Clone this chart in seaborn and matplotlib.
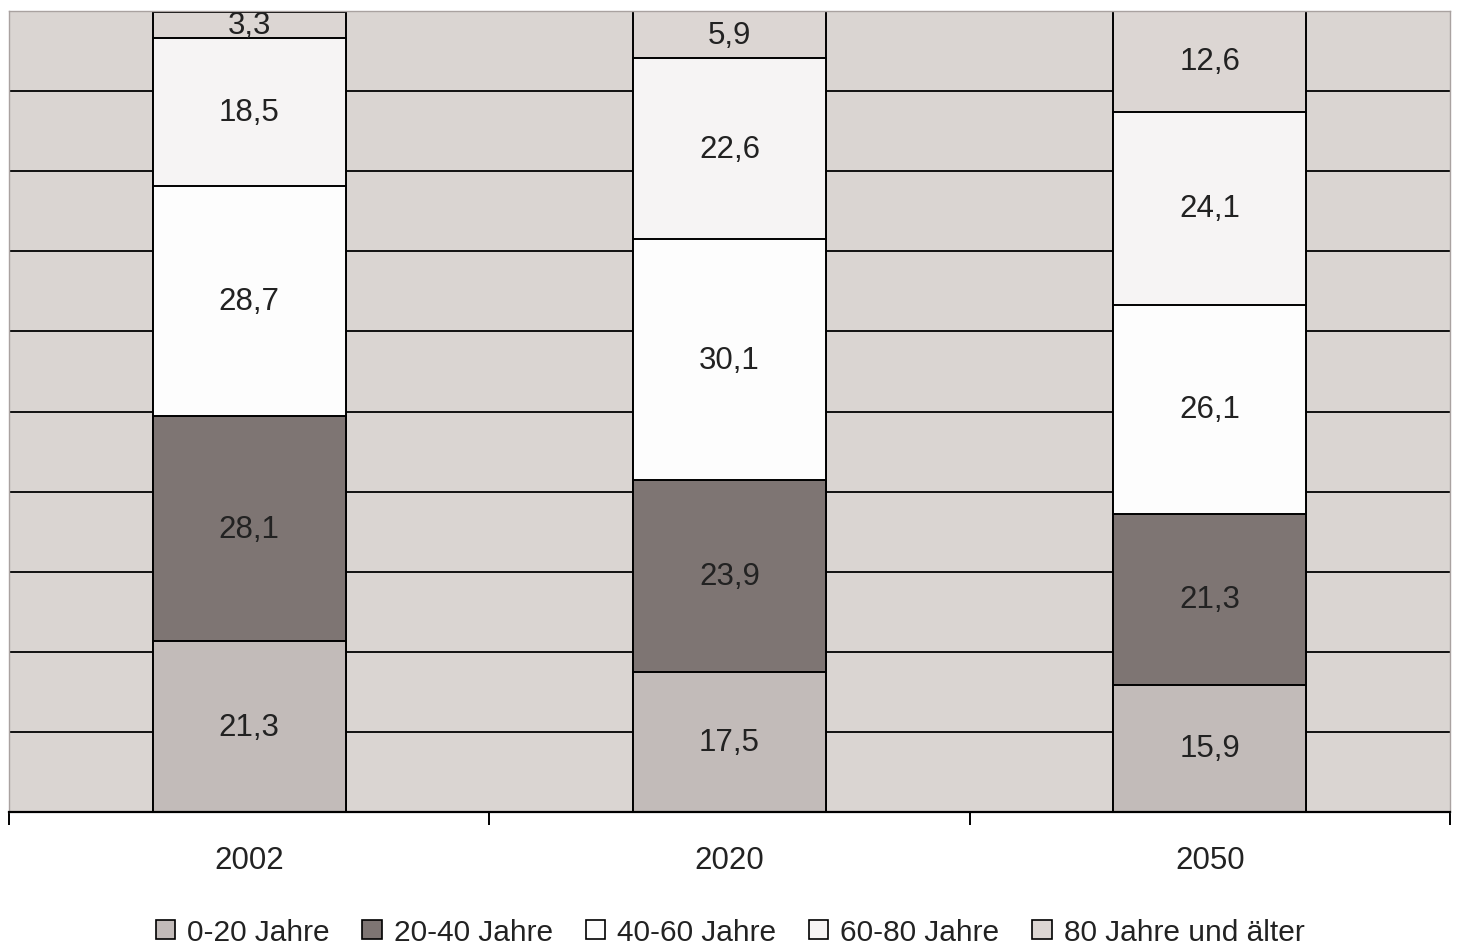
import matplotlib
matplotlib.use("Agg")
import matplotlib.pyplot as plt
from matplotlib.patches import Patch
import seaborn as sns
import numpy as np
import pandas as pd

years = ["2002", "2020", "2050"]
groups = ["0-20 Jahre", "20-40 Jahre", "40-60 Jahre", "60-80 Jahre", "80 Jahre und älter"]
v_0_20 = [21.3, 17.5, 15.9]
v_20_40 = [28.1, 23.9, 21.3]
v_40_60 = [28.7, 30.1, 26.1]
v_60_80 = [18.5, 22.6, 24.1]
v_80 = [3.3, 5.9, 12.6]
colors = ["#C2BBB9", "#7E7573", "#FDFDFD", "#F6F4F4", "#DCD6D3"]
bg = "#DAD5D2"

sns.set_theme(style="white")
plt.rcParams["font.family"] = ["Liberation Sans", "DejaVu Sans"]

series = [v_0_20, v_20_40, v_40_60, v_60_80, v_80]
cum = np.cumsum(np.array(series), axis=0)

fig = plt.figure(figsize=(14.57, 9.53), dpi=100)
fig.patch.set_facecolor("white")
ax = fig.add_axes([9/1457, 1 - 813/953, (1450-9)/1457, (813-12)/953])
ax.set_facecolor(bg)

for y in range(10, 100, 10):
    ax.axhline(y, color="#111111", lw=1.4, zorder=0.5)

for i in range(len(groups) - 1, -1, -1):
    df = pd.DataFrame({"year": years, "val": cum[i]})
    sns.barplot(data=df, x="year", y="val", order=years, color=colors[i],
                saturation=1, width=0.402, edgecolor="black", linewidth=1.4,
                ax=ax, zorder=2)

FS = 22.5
for i in range(len(groups)):
    for j in range(len(years)):
        base = cum[i][j] - series[i][j]
        ax.text(j, base + series[i][j] / 2, f"{series[i][j]:.1f}".replace(".", ","),
                ha="center", va="center", fontsize=FS, color="#222222", zorder=5)

ax.set_xlim(-0.5, 2.5)
ax.set_ylim(0, 100)
ax.set_ylabel("")
ax.set_xlabel("")
ax.set_yticks([])
ax.set_xticks([0, 1, 2])
ax.set_xticklabels(years, fontsize=FS, color="#222222")
ax.set_xticks([-0.5, 0.5, 1.5, 2.5], minor=True)
ax.tick_params(axis="x", which="major", length=0, pad=24)
ax.tick_params(axis="x", which="minor", length=9, width=1.4, color="black", direction="out", bottom=True)
for s in ["left", "top", "right"]:
    ax.spines[s].set_color("#A9A2A0")
    ax.spines[s].set_linewidth(1.0)
ax.spines["bottom"].set_color("black")
ax.spines["bottom"].set_linewidth(1.6)

handles = [Patch(facecolor=c, edgecolor="black", linewidth=1.2) for c in colors]
fig.legend(handles, groups, loc="center", bbox_to_anchor=(730/1457, 1 - 933/953),
           ncol=5, frameon=False, fontsize=21.5, handlelength=0.65, handleheight=0.65,
           handletextpad=0.4, columnspacing=1.1, labelcolor="#222222",
           borderpad=0.1)

fig.savefig("out.png", dpi=100)
